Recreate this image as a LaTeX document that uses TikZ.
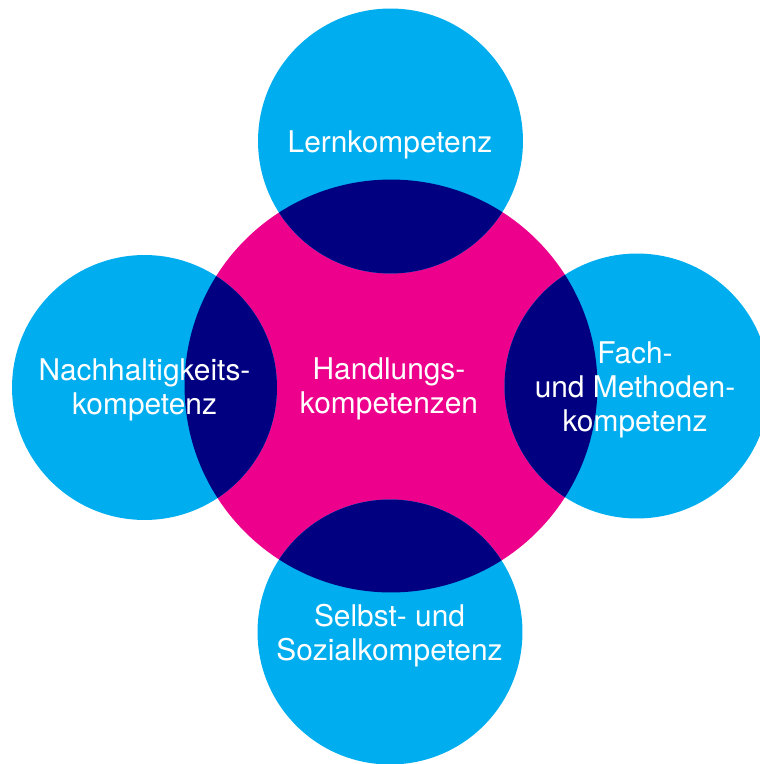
\documentclass[tikz,border=0pt]{standalone}
\usepackage{fontspec}
\setmainfont{TeX Gyre Heros}
\usetikzlibrary{positioning}
\definecolor{kcyan}{RGB}{0,174,239}
\definecolor{kmagenta}{RGB}{236,0,140}
\definecolor{knavy}{RGB}{0,0,128}

\begin{document}
\begin{tikzpicture}[x=0.02cm, y=-0.02cm]
        % Setup the styles for the circles and the labels
        \tikzset{hub style/.style={circle,
                                   minimum size=8.26cm,
                                   inner sep=0pt,
                                   fill=kmagenta},
                 ring style/.style={circle,
                                    minimum size=5.3cm,
                                    inner sep=0pt,
                                    fill=kcyan},
                 text style/.style={align=center,
                                    text=white,
                                    inner sep=0pt,
                                    font=\fontsize{17}{19.5}\selectfont}}
        \useasboundingbox (0, 0) rectangle (760, 764);

        % Draw the circles
        \node[hub style] at (391, 386) (hub) {};
        \node[ring style] at (390.5, 141) (lern) {};
        \node[ring style] at (144.5, 387.5) (nach) {};
        \node[ring style] at (637, 386) (fach) {};
        \node[ring style] at (390, 632) (sozial) {};

        % Overlaps of the small circles with the big one
        \begin{scope}
              \clip (hub.center) circle[radius=4.13cm];
              \foreach \ring in {lern, nach, fach, sozial}
                    \fill[knavy] (\ring.center) circle[radius=2.65cm];
        \end{scope}

        % Labels
        \node[text style] at (389, 389) (hub text) {Handlungs-\\kompetenzen};
        \node[text style] at (390, 145) (lern text) {Lernkompetenz};
        \node[text style] at (144.5, 390) (nach text) {Nachhaltigkeits-\\kompetenz};
        \node[text style] at (635, 390) (fach text) {Fach-\\und Methoden-\\kompetenz};
        \node[text style] at (389.5, 635.5) (sozial text) {Selbst- und\\Sozialkompetenz};
\end{tikzpicture}
\end{document}
